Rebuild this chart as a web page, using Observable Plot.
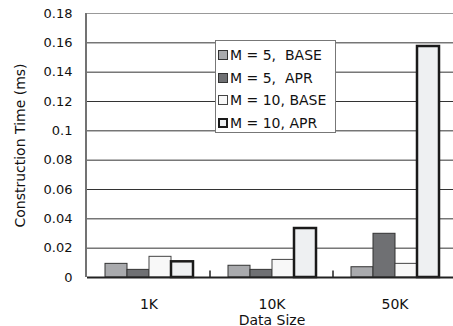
<!DOCTYPE html>
<html>
<head>
<meta charset="utf-8">
<script src="https://cdn.jsdelivr.net/npm/d3@7"></script>
<script src="https://cdn.jsdelivr.net/npm/@observablehq/plot@0.6"></script>
<style>
  html, body { margin: 0; padding: 0; background: #fff; overflow: hidden; }
  #wrap { position: relative; width: 453px; height: 326px; font-family: "DejaVu Sans", sans-serif; }
  #legend { position: absolute; left: 215px; top: 40px; width: 121px; height: 93px; background: #fff;
            border: 1px solid #777; box-sizing: border-box; padding: 3px 0 0 2px; }
  .row { display: flex; align-items: center; height: 22.5px; font-size: 14px; color: #111; white-space: pre; }
  .sw { width: 10px; height: 10px; margin-right: 2px; box-sizing: border-box; }
</style>
</head>
<body>
<div id="wrap"></div>
<script>
const sizes = ["1K", "10K", "50K"];
const series = ["M = 5,  BASE", "M = 5,  APR", "M = 10, BASE", "M = 10, APR"];
const m5Base  = [0.0093, 0.0080, 0.0070];
const m5Apr   = [0.0052, 0.0052, 0.0298];
const m10Base = [0.0141, 0.0120, 0.0093];
const m10Apr  = [0.0107, 0.0334, 0.1575];
const yTicks = [0, 0.02, 0.04, 0.06, 0.08, 0.1, 0.12, 0.14, 0.16, 0.18];
const yTickLabels = ["0", "0.02", "0.04", "0.06", "0.08", "0.1", "0.12", "0.14", "0.16", "0.18"];
const separatorHeight = 0.0045;

const fills = ["#a9aaad", "#6f7073", "#f8f8f8", "#eef0f2"];
const strokes = ["#333", "#333", "#444", "#1a1a1a"];
const strokeWidths = [1, 1, 1, 2.5];

const valuesBySeries = [m5Base, m5Apr, m10Base, m10Apr];
const data = [];
sizes.forEach((s, i) => series.forEach((k, j) => data.push({size: s, series: k, value: valuesBySeries[j][i]})));

const plot = Plot.plot({
  width: 453,
  height: 326,
  marginLeft: 86,
  marginRight: -3,
  marginTop: 13,
  marginBottom: 49,
  style: {fontFamily: "DejaVu Sans, sans-serif", fontSize: "13px", color: "#111", background: "#fff", overflow: "visible"},
  fx: {domain: sizes, padding: 0, label: null},
  x: {domain: series, paddingInner: 0, paddingOuter: 0.714, axis: null},
  y: {domain: [0, 0.18], ticks: yTicks, label: null},
  color: {domain: series, range: fills},
  marks: [
    Plot.gridY(yTicks.filter(t => t > 0 && t < 0.18), {stroke: "#333", strokeOpacity: 1, strokeWidth: 1}),
    Plot.ruleY([0.18], {stroke: "#999", strokeWidth: 1}),
    Plot.barY(data, {fx: "size", x: "series", y: "value", fill: "series",
      stroke: d => strokes[series.indexOf(d.series)],
      strokeWidth: d => strokeWidths[series.indexOf(d.series)]}),
    Plot.ruleY([0], {stroke: "#222", strokeWidth: 2}),
    Plot.axisY(yTicks, {tickSize: 0, tickPadding: 15, tickFormat: (d, i) => yTickLabels[i], fontSize: 13,
      label: "Construction Time (ms)", labelAnchor: "center", labelArrow: "none", labelOffset: 72}),
    Plot.axisFx({anchor: "bottom", tickSize: 0, tickPadding: 22, fontSize: 14, label: "Data Size",
      labelAnchor: "center", labelArrow: "none", labelOffset: 47})
  ]
});
d3.select(plot).selectAll("[aria-label='y-axis label']").attr("font-size", 14);

const wrap = document.getElementById("wrap");
wrap.appendChild(plot);

// y-axis line and small separator ticks between groups, placed through Plot's own scales
const fx = plot.scale("fx"), y = plot.scale("y");
const x0 = fx.range[0];
const svg = d3.select(plot);
const y0 = y.apply(0), yTop = y.apply(0.18), ySep = y.apply(separatorHeight);
svg.append("line").attr("stroke", "#444").attr("stroke-width", 1.5)
  .attr("x1", x0).attr("x2", x0).attr("y1", y0).attr("y2", yTop);
sizes.slice(1).forEach(s => {
  const xs = fx.apply(s);
  svg.append("line").attr("stroke", "#222").attr("stroke-width", 1.5)
    .attr("x1", xs).attr("x2", xs).attr("y1", y0).attr("y2", ySep);
});

const legend = document.createElement("div");
legend.id = "legend";
series.forEach((k, j) => {
  const row = document.createElement("div");
  row.className = "row";
  const sw = document.createElement("span");
  sw.className = "sw";
  sw.style.background = fills[j];
  sw.style.border = `${j === 3 ? 2 : 1}px solid ${strokes[j]}`;
  row.appendChild(sw);
  row.appendChild(document.createTextNode(k));
  legend.appendChild(row);
});
wrap.appendChild(legend);
</script>
</body>
</html>
